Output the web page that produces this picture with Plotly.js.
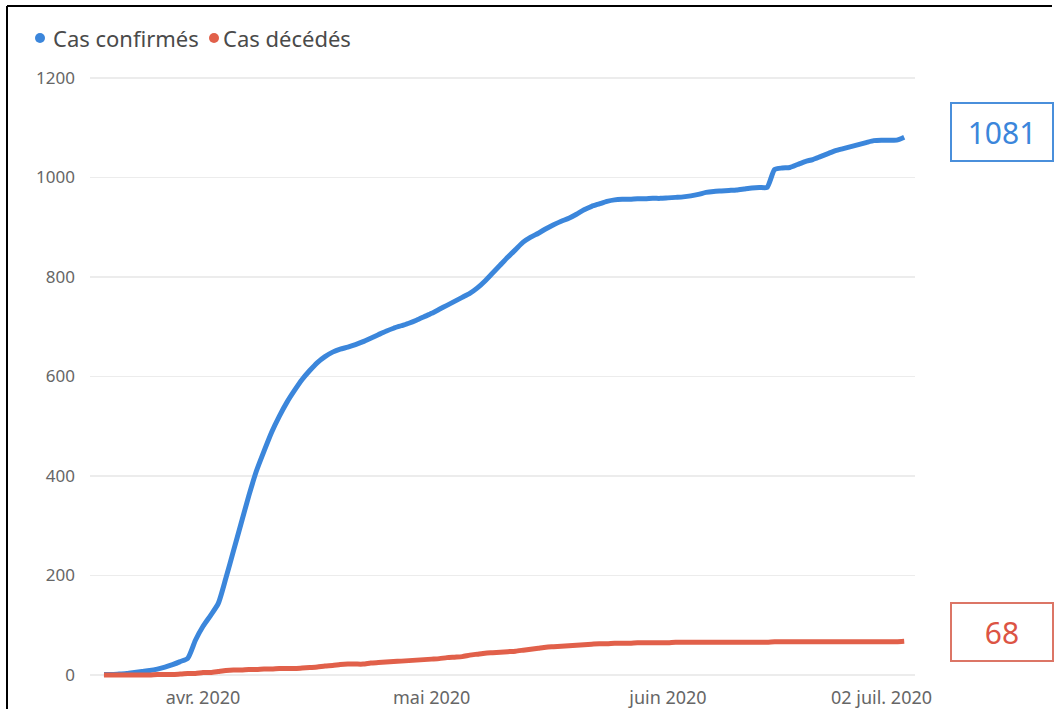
<!DOCTYPE html>
<html>
<head>
<meta charset="utf-8">
<script src="https://cdn.plot.ly/plotly-3.0.1.min.js"></script>
<style>html,body{margin:0;padding:0;background:#fff;}#chart{width:1057px;height:709px;}</style>
</head>
<body>
<div id="chart"></div>
<script>
// ---- data ----
const startDate = '2020-03-19';
const confirmes = [
  1, 1, 2, 3, 5, 7, 9, 12, 16, 21, 27, 34, 70,             // 19 mars - 31 mars
  98, 120, 144, 195, 250, 305, 360, 410, 450, 488, 520, 548, 572, 594, 612,
  628, 640, 649, 655, 659, 664, 670, 677, 684, 691, 697, 702, 707, 713, 720, // avril
  727, 735, 743, 751, 759, 767, 778, 792, 808, 824, 840, 855, 870, 880, 888,
  897, 905, 912, 918, 926, 935, 942, 947, 952, 955, 956, 956, 957, 957, 958, 958, // mai
  959, 960, 961, 963, 966, 970, 972, 973, 974, 975, 977, 979, 980, 980, 1016,
  1019, 1020, 1026, 1032, 1036, 1042, 1048, 1054, 1058, 1062, 1066, 1070, 1074, 1075, 1075, // juin
  1075, 1081                                                // juillet
];
const decedes = [
  0, 0, 0, 0, 0, 0, 0, 1, 1, 1, 2, 3, 3,
  5, 5, 7, 9, 10, 10, 11, 11, 12, 12, 13, 13, 13, 14, 15,
  16, 18, 19, 21, 22, 22, 22, 24, 25, 26, 27, 28, 29, 30, 31,
  32, 33, 35, 36, 37, 40, 42, 44, 45, 46, 47, 48, 50, 52, 54,
  56, 57, 58, 59, 60, 61, 62, 63, 63, 64, 64, 64, 65, 65, 65, 65,
  65, 66, 66, 66, 66, 66, 66, 66, 66, 66, 66, 66, 66, 66, 67,
  67, 67, 67, 67, 67, 67, 67, 67, 67, 67, 67, 67, 67, 67, 67,
  67, 68
];
const tickDates = ['2020-04-01', '2020-05-01', '2020-06-01'];
const tickLabels = ['avr. 2020', 'mai 2020', 'juin 2020'];
const lastLabel = '02 juil. 2020';
const seriesNames = ['Cas confirmés', 'Cas décédés'];

// ---- build dates ----
function dayList(start, n) {
  const out = [];
  const d0 = new Date(start + 'T00:00:00Z');
  for (let i = 0; i < n; i++) {
    const d = new Date(d0.getTime() + i * 86400000);
    out.push(d.toISOString().slice(0, 10));
  }
  return out;
}
const dates = dayList(startDate, confirmes.length);

const BLUE = '#3b86db';
const RED = '#e1604a';
const FONT = 'Noto Sans, Open Sans, sans-serif';

// plot area geometry helpers (paper coords from pixel positions)
const L = 90, R = 142, T = 68, B = 24, W = 1057, H = 709;
const pw = W - L - R, ph = H - T - B;
const px = (x) => (x - L) / pw;
const py = (y) => (H - B - y) / ph;

const traces = [
  { x: dates, y: confirmes, type: 'scatter', mode: 'lines', name: seriesNames[0],
    line: { color: BLUE, width: 5, shape: 'spline', smoothing: 0.6 }, showlegend: false },
  { x: dates, y: decedes, type: 'scatter', mode: 'lines', name: seriesNames[1],
    line: { color: RED, width: 5, shape: 'spline', smoothing: 0.6 }, showlegend: false }
];

const layout = {
  width: W, height: H,
  margin: { l: L, r: R, t: T, b: B },
  paper_bgcolor: '#fff', plot_bgcolor: '#fff',
  font: { family: FONT, color: '#666' },
  xaxis: {
    type: 'date',
    range: ['2020-03-17 04:00', '2020-07-03 10:00'],
    showgrid: false, zeroline: false, showline: false,
    tickvals: tickDates, ticktext: tickLabels,
    ticks: '', tickfont: { size: 18, color: '#666', family: FONT },
    fixedrange: true
  },
  yaxis: {
    range: [-20, 1220],
    dtick: 200, tick0: 0,
    showgrid: true, gridcolor: '#ececec', gridwidth: 1.5,
    zeroline: true, zerolinecolor: '#ececec', zerolinewidth: 1.5,
    showline: false, ticks: '',
    ticklabelstandoff: 14,
    tickfont: { size: 17, color: '#666', family: FONT },
    fixedrange: true
  },
  shapes: [
    // frame lines (left, top)
    { type: 'line', xref: 'paper', yref: 'paper', x0: px(7), x1: px(7), y0: py(6), y1: py(712),
      line: { color: '#000', width: 2 } },
    { type: 'line', xref: 'paper', yref: 'paper', x0: px(7), x1: px(1052), y0: py(6), y1: py(6),
      line: { color: '#000', width: 2 } },
    // legend dots
    { type: 'circle', xref: 'paper', yref: 'paper', xsizemode: 'pixel', ysizemode: 'pixel',
      xanchor: px(40), yanchor: py(38), x0: -5, x1: 5, y0: -5, y1: 5,
      fillcolor: BLUE, line: { width: 0 } },
    { type: 'circle', xref: 'paper', yref: 'paper', xsizemode: 'pixel', ysizemode: 'pixel',
      xanchor: px(214), yanchor: py(38), x0: -5, x1: 5, y0: -5, y1: 5,
      fillcolor: RED, line: { width: 0 } }
  ],
  annotations: [
    { xref: 'paper', yref: 'paper', x: px(51), y: py(38), xanchor: 'left', yanchor: 'middle',
      text: seriesNames[0], showarrow: false, font: { size: 22, color: '#4a4a4a', family: FONT } },
    { xref: 'paper', yref: 'paper', x: px(221), y: py(38), xanchor: 'left', yanchor: 'middle',
      text: seriesNames[1], showarrow: false, font: { size: 22, color: '#4a4a4a', family: FONT } },
    { xref: 'paper', yref: 'paper', x: px(934), y: py(697), xanchor: 'right', yanchor: 'middle',
      text: lastLabel, showarrow: false, font: { size: 18, color: '#666', family: FONT } },
    { xref: 'paper', yref: 'paper', x: px(1002), y: py(132), xanchor: 'center', yanchor: 'middle',
      text: String(confirmes[confirmes.length - 1]), showarrow: false,
      width: 100, height: 56, bordercolor: '#4a8fdb', borderwidth: 2, borderpad: 0, bgcolor: '#fff',
      font: { size: 30, color: BLUE, family: FONT } },
    { xref: 'paper', yref: 'paper', x: px(1002), y: py(632), xanchor: 'center', yanchor: 'middle',
      text: String(decedes[decedes.length - 1]), showarrow: false,
      width: 100, height: 56, bordercolor: '#dc7566', borderwidth: 2, borderpad: 0, bgcolor: '#fff',
      font: { size: 30, color: '#dc5444', family: FONT } }
  ]
};

Plotly.newPlot('chart', traces, layout, { displayModeBar: false, staticPlot: true });
</script>
</body>
</html>
